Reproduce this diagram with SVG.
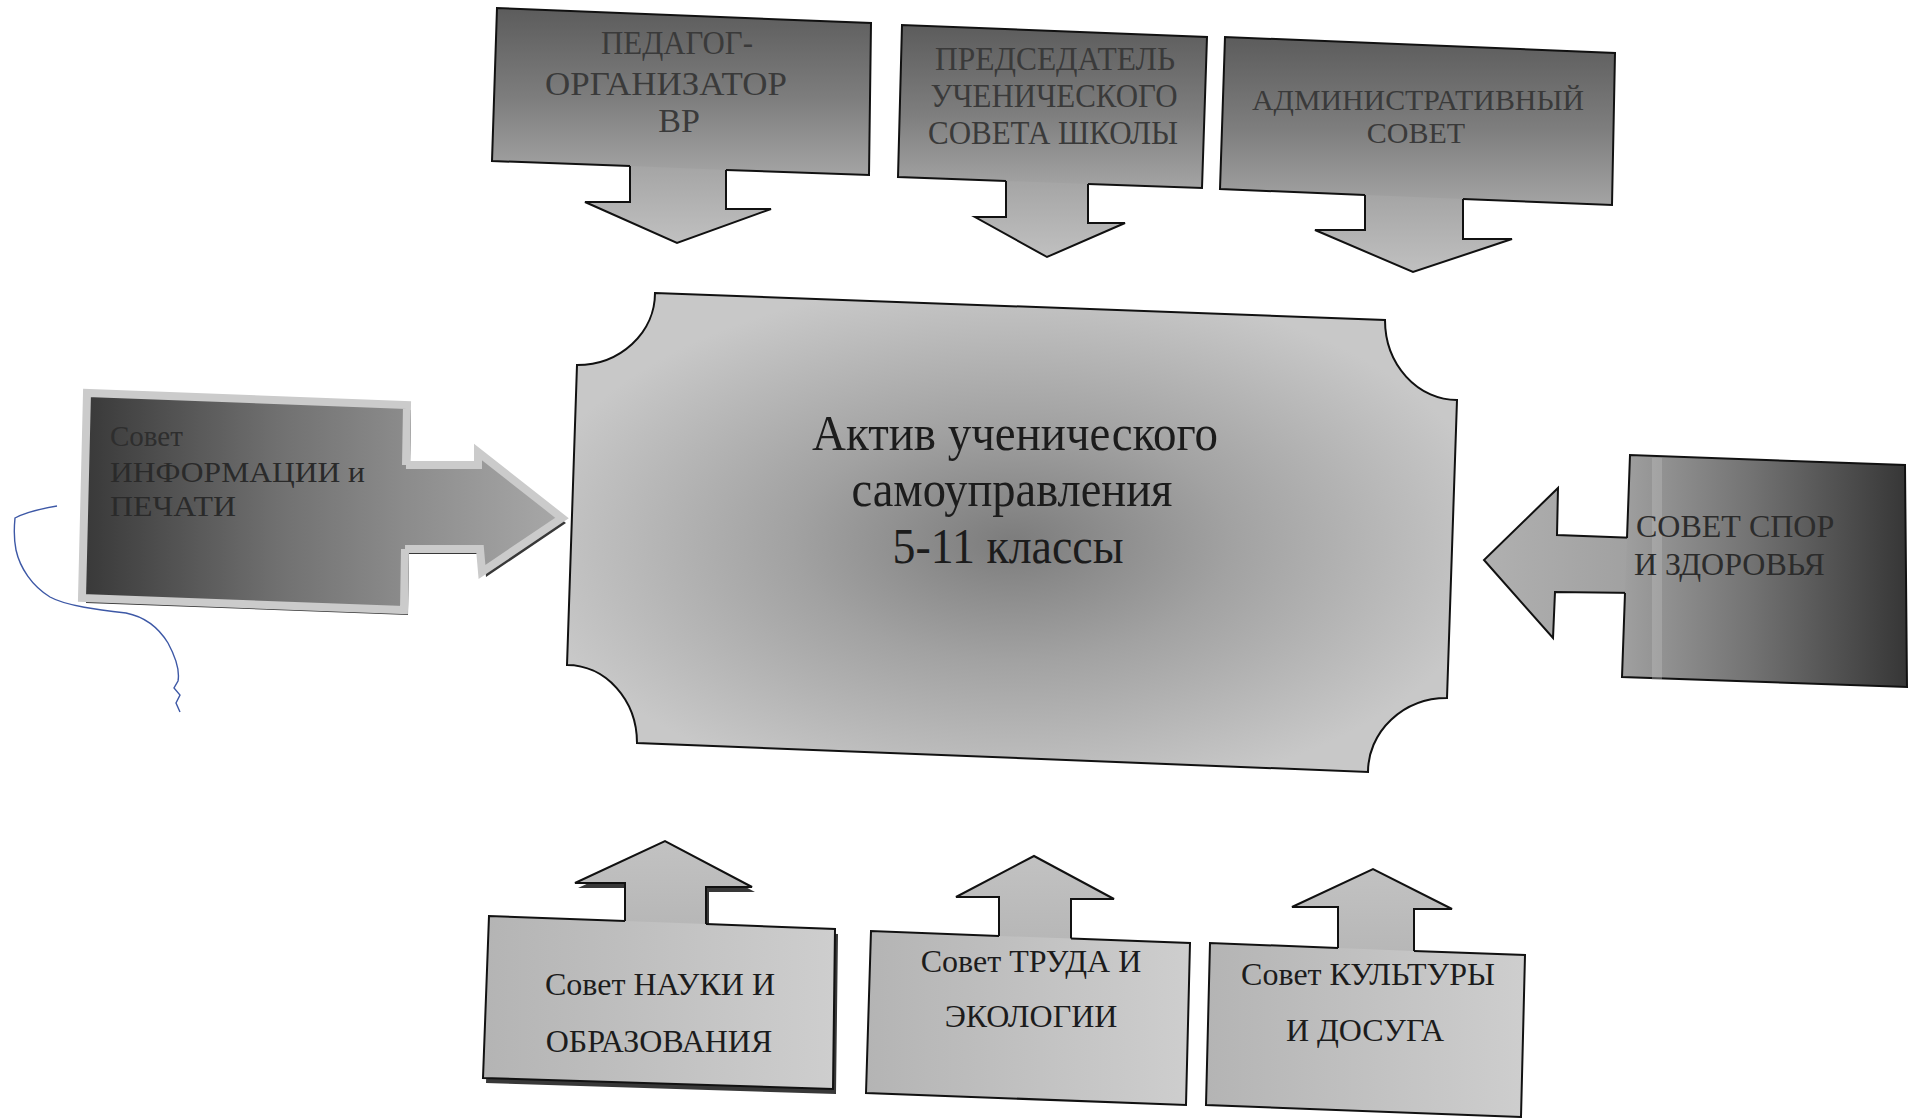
<svg xmlns="http://www.w3.org/2000/svg" width="1915" height="1118" viewBox="0 0 1915 1118">
<defs>
<linearGradient id="gTop" x1="0" y1="0" x2="0" y2="1">
<stop offset="0" stop-color="#5c5c5c"/><stop offset="0.55" stop-color="#7e7e7e"/><stop offset="1" stop-color="#a4a4a4"/>
</linearGradient>
<linearGradient id="gTopArrow" x1="0" y1="0" x2="0" y2="1">
<stop offset="0" stop-color="#a2a2a2"/><stop offset="1" stop-color="#c0c0c0"/>
</linearGradient>
<linearGradient id="gLeft" x1="0" y1="0" x2="1" y2="0">
<stop offset="0" stop-color="#383838"/><stop offset="0.6" stop-color="#707070"/><stop offset="1" stop-color="#8c8c8c"/>
</linearGradient>
<linearGradient id="gLeftArrow" x1="0" y1="0" x2="1" y2="0">
<stop offset="0" stop-color="#8a8a8a"/><stop offset="1" stop-color="#a8a8a8"/>
</linearGradient>
<linearGradient id="gRight" x1="0" y1="0" x2="1" y2="0">
<stop offset="0" stop-color="#a0a0a0"/><stop offset="0.45" stop-color="#737373"/><stop offset="1" stop-color="#363636"/>
</linearGradient>
<linearGradient id="gRightArrow" x1="0" y1="0" x2="1" y2="0">
<stop offset="0" stop-color="#b0b0b0"/><stop offset="1" stop-color="#a0a0a0"/>
</linearGradient>
<radialGradient id="gCenter" cx="0.5" cy="0.52" r="0.55">
<stop offset="0" stop-color="#7c7c7c"/><stop offset="0.45" stop-color="#a2a2a2"/><stop offset="1" stop-color="#c8c8c8"/>
</radialGradient>
<linearGradient id="gBottom" x1="0" y1="0" x2="1" y2="0">
<stop offset="0" stop-color="#b4b4b4"/><stop offset="1" stop-color="#cecece"/>
</linearGradient>
<linearGradient id="gBottomArrow" x1="0" y1="0" x2="0" y2="1">
<stop offset="0" stop-color="#c2c2c2"/><stop offset="1" stop-color="#b6b6b6"/>
</linearGradient>
</defs>
<style>
.edge{stroke:#111;stroke-width:2;stroke-linejoin:miter}
.frame{stroke:#cbcbcb;stroke-width:8;stroke-linejoin:miter}
.shadow{fill:#383838}
.t{font-family:"Liberation Serif","DejaVu Serif",serif;}
.dim{fill:#3a3a3a}
.dark{fill:#1c1c1c}
</style>
<rect width="1915" height="1118" fill="#ffffff"/>

<g id="shadows">
<path class="shadow" d="M91,398 L411,410 L410,470 L482,470 L482,457 L566,523 L486,577 L484,554 L409,554 L408,615 L86,603 Z"/>
<path class="shadow" d="M492,921 L628,926 L628,888 L578,888 L668,846 L755,892 L709,892 L709,929 L838,934 L836,1094 L486,1083 Z"/>
</g>

<g id="connectors">
<path class="edge" fill="url(#gTopArrow)" d="M630,158 L630,202 L585,202 L677,243 L771,209 L726,209 L726,162 Z"/>
<path class="edge" fill="url(#gTopArrow)" d="M1006,173 L1006,217 L975,217 L1047,257 L1125,223 L1088,223 L1088,176 Z"/>
<path class="edge" fill="url(#gTopArrow)" d="M1365,187 L1365,230 L1315,230 L1413,272 L1512,239 L1463,239 L1463,191 Z"/>
<path class="frame" fill="url(#gLeftArrow)" d="M396,465 L478,465 L478,452 L562,518 L482,572 L480,549 L396,549 Z"/>
<path class="edge" fill="url(#gRightArrow)" d="M1637,538 L1557,535 L1558,488 L1484,560 L1553,638 L1555,592 L1637,593 Z"/>
<path class="edge" fill="url(#gBottomArrow)" d="M625,929 L625,883 L575,883 L665,841 L752,887 L706,887 L706,932 Z"/>
<path class="edge" fill="url(#gBottomArrow)" d="M999,944 L999,897 L956,897 L1034,856 L1114,899 L1071,899 L1071,946 Z"/>
<path class="edge" fill="url(#gBottomArrow)" d="M1338,956 L1338,907 L1292,907 L1373,869 L1452,909 L1414,909 L1414,959 Z"/>
</g>

<g id="node-pedagog">
<path class="edge" fill="url(#gTop)" d="M630,166 L492,161 L497,8 L871,23 L869,175 L726,170"/>
<text class="t dim" font-size="34" text-anchor="middle" x="677" y="54" textLength="152" lengthAdjust="spacingAndGlyphs">ПЕДАГОГ-</text>
<text class="t dim" font-size="34" text-anchor="middle" x="666" y="95" textLength="242" lengthAdjust="spacingAndGlyphs">ОРГАНИЗАТОР</text>
<text class="t dim" font-size="34" text-anchor="middle" x="679" y="132">ВР</text>
</g>

<g id="node-predsedatel">
<path class="edge" fill="url(#gTop)" d="M1006,181 L898,177 L902,25 L1207,37 L1202,188 L1088,184"/>
<text class="t dim" font-size="34" text-anchor="middle" x="1055" y="70" textLength="240" lengthAdjust="spacingAndGlyphs">ПРЕДСЕДАТЕЛЬ</text>
<text class="t dim" font-size="34" text-anchor="middle" x="1054" y="107" textLength="247" lengthAdjust="spacingAndGlyphs">УЧЕНИЧЕСКОГО</text>
<text class="t dim" font-size="34" text-anchor="middle" x="1053" y="144" textLength="250" lengthAdjust="spacingAndGlyphs">СОВЕТА ШКОЛЫ</text>
</g>

<g id="node-admin">
<path class="edge" fill="url(#gTop)" d="M1365,195 L1220,189 L1225,37 L1615,53 L1612,205 L1463,199"/>
<text class="t dim" font-size="30" text-anchor="middle" x="1418" y="110" textLength="332" lengthAdjust="spacingAndGlyphs">АДМИНИСТРАТИВНЫЙ</text>
<text class="t dim" font-size="30" text-anchor="middle" x="1416" y="143">СОВЕТ</text>
</g>

<g id="node-center">
<path class="edge" fill="url(#gCenter)" d="M655,293 L1385,320 A72,80 0 0 0 1457,400 L1447,698 A79,74 0 0 0 1368,772 L637,743 A70,78 0 0 0 567,665 L577,365 A78,72 0 0 0 655,293 Z"/>
<text class="t dark" font-size="50" text-anchor="middle" x="1015" y="450" textLength="406" lengthAdjust="spacingAndGlyphs">Актив ученического</text>
<text class="t dark" font-size="50" text-anchor="middle" x="1012" y="506" textLength="321" lengthAdjust="spacingAndGlyphs">самоуправления</text>
<text class="t dark" font-size="50" text-anchor="middle" x="1008" y="563" textLength="231" lengthAdjust="spacingAndGlyphs">5-11 классы</text>
</g>

<g id="node-info">
<path class="frame" fill="url(#gLeft)" d="M406,465 L407,405 L87,393 L82,598 L404,610 L405,549"/>
<text class="t" fill="#2e2e2e" font-size="29" x="110" y="446">Совет</text>
<text class="t" fill="#2a2a2a" font-size="29" x="110" y="482" textLength="255" lengthAdjust="spacingAndGlyphs">ИНФОРМАЦИИ и</text>
<text class="t" fill="#2a2a2a" font-size="29" x="110" y="516" textLength="126" lengthAdjust="spacingAndGlyphs">ПЕЧАТИ</text>
</g>

<g id="node-sport">
<path class="edge" fill="url(#gRight)" d="M1627,538 L1630,455 L1905,465 L1907,687 L1622,677 L1625,593"/>
<rect x="1652" y="458" width="10" height="222" fill="#c4c4c4" opacity="0.35"/>
<text class="t" fill="#2c2c2c" font-size="32" x="1636" y="537">СОВЕТ СПОР</text>
<text class="t" fill="#2c2c2c" font-size="32" x="1634" y="575">И ЗДОРОВЬЯ</text>
</g>

<g id="node-nauka">
<path class="edge" fill="url(#gBottom)" d="M625,921 L489,916 L483,1078 L833,1089 L835,929 L706,924"/>
<text class="t dark" font-size="32" text-anchor="middle" x="660" y="995">Совет НАУКИ И</text>
<text class="t dark" font-size="32" text-anchor="middle" x="659" y="1052">ОБРАЗОВАНИЯ</text>
</g>

<g id="node-trud">
<path class="edge" fill="url(#gBottom)" d="M999,936 L871,931 L866,1093 L1186,1105 L1190,943 L1071,938.5"/>
<text class="t dark" font-size="32" text-anchor="middle" x="1031" y="972">Совет ТРУДА И</text>
<text class="t dark" font-size="32" text-anchor="middle" x="1031" y="1027">ЭКОЛОГИИ</text>
</g>

<g id="node-kultura">
<path class="edge" fill="url(#gBottom)" d="M1338,948 L1210,943 L1206,1105 L1521,1117 L1525,955 L1414,951"/>
<text class="t dark" font-size="32" text-anchor="middle" x="1368" y="985">Совет КУЛЬТУРЫ</text>
<text class="t dark" font-size="32" text-anchor="middle" x="1365" y="1041">И ДОСУГА</text>
</g>

<path id="pen-mark" fill="none" stroke="#3d58a6" stroke-width="1.4" d="M57,506 C45,508 28,511 15,518 C14,528 14,540 16,550 C20,568 32,586 50,597 C66,606 100,610 126,613 C146,617 160,630 168,643 C175,656 180,670 178,681 L174,688 L180,695 L176,703 L180,712"/>
</svg>
